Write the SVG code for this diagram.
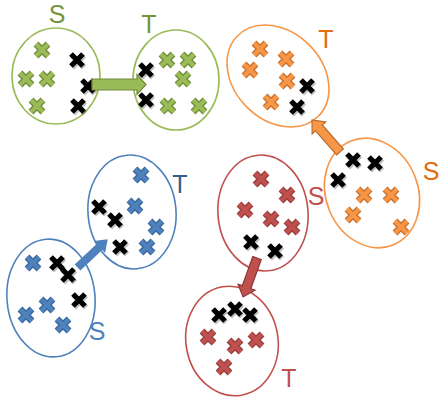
<svg xmlns="http://www.w3.org/2000/svg" xmlns:xlink="http://www.w3.org/1999/xlink" width="440" height="400" viewBox="0 0 440 400">
<style>
  .ell{fill:none;stroke-width:1.6}
  .lbl{font-family:"Liberation Sans",Arial,sans-serif;font-size:25px;text-anchor:middle}
  .arr{stroke-width:1.2;stroke-linejoin:miter}
</style>
<defs>
  <path id="xp" d="M-6,-6L6,6M6,-6L-6,6" fill="none" stroke-linecap="butt"/>
  <g id="xk"><use xlink:href="#xp" x="1" y="1.5" stroke="#000" stroke-opacity="0.25" stroke-width="6"/><use xlink:href="#xp" stroke="#000" stroke-width="5.2"/></g>
  <g id="xgr"><use xlink:href="#xp" stroke="#6f8d38" stroke-width="6.8"/><use xlink:href="#xp" stroke="#9bbb59" stroke-width="4.2"/></g>
  <g id="xor"><use xlink:href="#xp" stroke="#c9712d" stroke-width="6.8"/><use xlink:href="#xp" stroke="#f79646" stroke-width="4.2"/></g>
  <g id="xrd"><use xlink:href="#xp" stroke="#96403d" stroke-width="6.8"/><use xlink:href="#xp" stroke="#c0504d" stroke-width="4.2"/></g>
  <g id="xbl"><use xlink:href="#xp" stroke="#3a679c" stroke-width="6.8"/><use xlink:href="#xp" stroke="#4f81bd" stroke-width="4.2"/></g>
</defs>

<!-- Green pair -->
<g id="green-S">
  <ellipse class="ell" cx="56" cy="76" rx="44" ry="48" stroke="#9bbb59"/>
  <text class="lbl" x="57" y="23" fill="#77933c">S</text>
  <use xlink:href="#xgr" x="42" y="50"/><use xlink:href="#xgr" x="26" y="79"/><use xlink:href="#xgr" x="47" y="79"/><use xlink:href="#xgr" x="37" y="106"/>
  <use xlink:href="#xk" x="77" y="60"/><use xlink:href="#xk" x="88" y="86"/><use xlink:href="#xk" x="78" y="106"/>
</g>
<g id="green-T">
  <ellipse class="ell" cx="176" cy="80" rx="43" ry="50" stroke="#9bbb59"/>
  <text class="lbl" x="149" y="33" fill="#77933c">T</text>
  <use xlink:href="#xk" x="146" y="70"/><use xlink:href="#xk" x="146" y="100"/>
  <use xlink:href="#xgr" x="167" y="60"/><use xlink:href="#xgr" x="188" y="60"/><use xlink:href="#xgr" x="183" y="79"/><use xlink:href="#xgr" x="168" y="106"/><use xlink:href="#xgr" x="199" y="106"/>
</g>

<!-- Orange pair -->
<g id="orange-T">
  <ellipse class="ell" cx="278" cy="76" rx="44" ry="57" transform="rotate(-45 278 76)" stroke="#f79646"/>
  <text class="lbl" x="326" y="48" fill="#e46c0a">T</text>
  <use xlink:href="#xor" x="260" y="49"/><use xlink:href="#xor" x="250" y="70"/><use xlink:href="#xor" x="286" y="59"/><use xlink:href="#xor" x="287" y="81"/><use xlink:href="#xor" x="271" y="102"/>
  <use xlink:href="#xk" x="307" y="86"/><use xlink:href="#xk" x="297" y="107"/>
</g>
<g id="orange-S">
  <ellipse class="ell" cx="372" cy="193" rx="46" ry="56" transform="rotate(-22 372 193)" stroke="#f79646"/>
  <text class="lbl" x="431" y="180" fill="#e46c0a">S</text>
  <use xlink:href="#xk" x="353" y="160"/><use xlink:href="#xk" x="375" y="163"/><use xlink:href="#xk" x="338" y="180"/>
  <use xlink:href="#xor" x="364" y="195"/><use xlink:href="#xor" x="391" y="195"/><use xlink:href="#xor" x="353" y="215"/><use xlink:href="#xor" x="401" y="227"/>
</g>

<!-- Red pair -->
<g id="red-S">
  <ellipse class="ell" cx="263" cy="213" rx="45" ry="58" transform="rotate(-5 263 213)" stroke="#c0504d"/>
  <text class="lbl" x="316" y="205" fill="#c0504d">S</text>
  <use xlink:href="#xrd" x="261" y="179"/><use xlink:href="#xrd" x="287" y="195"/><use xlink:href="#xrd" x="245" y="210"/><use xlink:href="#xrd" x="271" y="219"/><use xlink:href="#xrd" x="292" y="227"/>
  <use xlink:href="#xk" x="251" y="242"/><use xlink:href="#xk" x="275" y="251"/>
</g>
<g id="red-T">
  <ellipse class="ell" cx="232" cy="341" rx="46" ry="55" transform="rotate(-10 232 341)" stroke="#c0504d"/>
  <text class="lbl" x="289" y="387" fill="#c0504d">T</text>
  <use xlink:href="#xk" x="219" y="315"/><use xlink:href="#xk" x="235" y="309"/><use xlink:href="#xk" x="250" y="315"/>
  <use xlink:href="#xrd" x="208" y="337"/><use xlink:href="#xrd" x="235" y="346"/><use xlink:href="#xrd" x="256" y="340"/><use xlink:href="#xrd" x="224" y="367"/>
</g>

<!-- Blue pair -->
<g id="blue-T">
  <ellipse class="ell" cx="132" cy="212" rx="44" ry="57" transform="rotate(-5 132 212)" stroke="#4f81bd"/>
  <text class="lbl" x="180" y="193" fill="#385d8a">T</text>
  <use xlink:href="#xbl" x="141" y="175"/><use xlink:href="#xbl" x="135" y="206"/><use xlink:href="#xbl" x="156" y="227"/><use xlink:href="#xbl" x="147" y="247"/>
  <use xlink:href="#xk" x="99" y="207"/><use xlink:href="#xk" x="115" y="220"/><use xlink:href="#xk" x="120" y="247"/>
</g>
<g id="blue-S">
  <ellipse class="ell" cx="51" cy="298" rx="44" ry="59" transform="rotate(-5 51 298)" stroke="#4f81bd"/>
  <text class="lbl" x="97" y="340" fill="#4f81bd">S</text>
  <use xlink:href="#xbl" x="33" y="263"/><use xlink:href="#xbl" x="47" y="305"/><use xlink:href="#xbl" x="26" y="315"/><use xlink:href="#xbl" x="63" y="325"/>
  <use xlink:href="#xk" x="57" y="263"/><use xlink:href="#xk" x="68" y="275"/><use xlink:href="#xk" x="79" y="300"/>
</g>

<!-- Connectors -->
<g id="connectors">
  <path class="arr" transform="translate(92 84.5)" d="M0,-5.5H45V-10L54,0L45,10V5.5H0Z" fill="#9bbb59" stroke="#71893f"/>
  <path class="arr" transform="translate(340 152) rotate(-131.2)" d="M0,-4.5H32V-9L42.5,0L32,9V4.5H0Z" fill="#f79646" stroke="#b66d31"/>
  <path class="arr" transform="translate(257 258) rotate(109.7)" d="M0,-4.5H31V-9L41.4,0L31,9V4.5H0Z" fill="#c0504d" stroke="#8c3836"/>
  <path class="arr" transform="translate(78 267) rotate(-43)" d="M0,-3.5H30V-7L39.6,0L30,7V3.5H0Z" fill="#4f81bd" stroke="#4f81bd"/>
</g>
</svg>
